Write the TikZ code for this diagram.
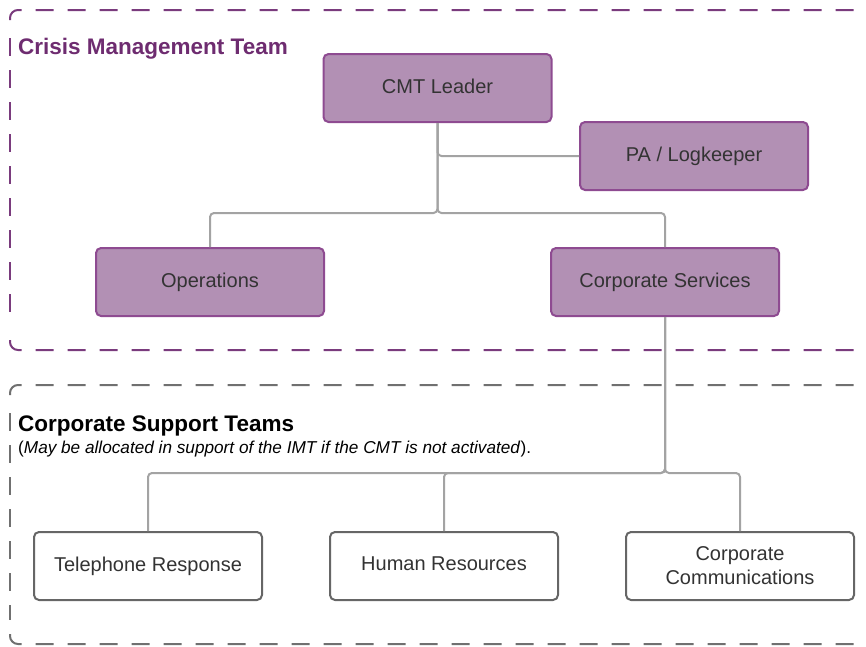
\documentclass[tikz,border=0pt]{standalone}
\usepackage{fontspec}
\setmainfont{Liberation Sans}
\definecolor{cmtfill}{HTML}{B290B4}
\definecolor{cmtdraw}{HTML}{8E4B91}
\definecolor{cmtdash}{HTML}{7A3B7D}
\definecolor{cmttitle}{HTML}{6E2C70}
\definecolor{conncol}{HTML}{A3A3A3}
\definecolor{boxdraw}{HTML}{666666}
\definecolor{grydash}{HTML}{707070}
\definecolor{txt}{HTML}{333333}
\begin{document}
\begin{tikzpicture}[x=1pt,y=-1pt,
  purplebox/.style={draw=cmtdraw, fill=cmtfill, line width=2pt, rounded corners=5pt,
    minimum width=228pt, minimum height=68pt, inner sep=0pt, text=txt,
    font=\fontsize{20}{24}\selectfont, align=center},
  whitebox/.style={draw=boxdraw, fill=white, line width=2pt, rounded corners=5pt,
    minimum width=228pt, minimum height=68pt, inner sep=0pt, text=txt,
    font=\fontsize{20}{24}\selectfont, align=center},
  conn/.style={draw=conncol, line width=2pt, rounded corners=4pt},
  dashframe/.style={line width=2pt, dash pattern=on 18pt off 14pt, rounded corners=8pt}]
\useasboundingbox (0,0) rectangle (866,646);
\clip (0,0) rectangle (866,646);
% frames
\draw[dashframe, draw=cmtdash] (10,20) -- (10,10) -- (900,10);
\draw[dashframe, draw=cmtdash] (10,340) -- (10,350) -- (900,350);
\draw[dashframe, draw=cmtdash] (10,38) -- (10,326);
\draw[dashframe, draw=grydash] (10,395) -- (10,385) -- (900,385);
\draw[dashframe, draw=grydash] (10,634) -- (10,644) -- (900,644);
\draw[dashframe, draw=grydash] (10,413) -- (10,620);
% titles
\node[anchor=base west, inner sep=0pt, text=cmttitle, font=\bfseries\fontsize{22.5}{27}\selectfont] (t1) at (18,54) {Crisis Management Team};
\node[anchor=base west, inner sep=0pt, text=black, font=\bfseries\fontsize{22.5}{27}\selectfont] (t2) at (18,431) {Corporate Support Teams};
\node[anchor=base west, inner sep=0pt, text=black, font=\fontsize{17.2}{20}\selectfont] (t3) at (18,453) {(\textit{May be allocated in support of the IMT if the CMT is not activated}).};
% nodes
\node[purplebox] (lead) at (437.5,88) {CMT Leader\vphantom{p}};
\node[purplebox] (pa) at (694,156) {PA / Logkeeper};
\node[purplebox] (ops) at (210,282) {Operations};
\node[purplebox] (cs) at (665,282) {Corporate Services};
\node[whitebox] (tel) at (148,566) {Telephone Response};
\node[whitebox] (hr) at (444,566) {Human Resources\vphantom{p}};
\node[whitebox] (cc) at (740,566) {Corporate\\Communications};
% connectors
\draw[conn] (lead.south) |- (pa.west);
\draw[conn] (lead.south) -- ++(0,90) -| (ops.north);
\draw[conn] (lead.south) -- ++(0,90) -| (cs.north);
\draw[conn] (cs.south) -- ++(0,156) -| (tel.north);
\draw[conn] (cs.south) -- ++(0,156) -| (hr.north);
\draw[conn] (cs.south) -- ++(0,156) -| (cc.north);
\end{tikzpicture}
\end{document}
